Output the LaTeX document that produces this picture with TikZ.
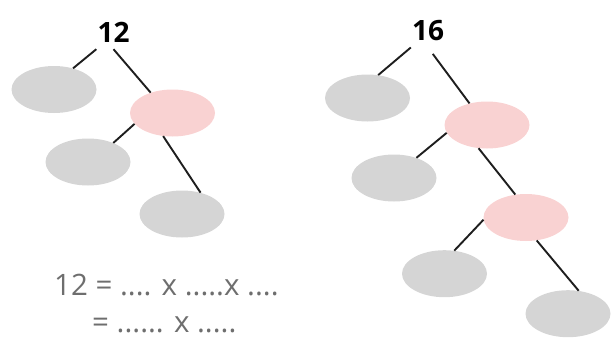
\documentclass[tikz,border=0pt]{standalone}
\usepackage{fontspec}
\setmainfont{Open Sans}
\usetikzlibrary{shapes.geometric}
\definecolor{leafgray}{HTML}{D5D5D5}
\definecolor{innerpink}{HTML}{F9D2D2}
\definecolor{linedark}{HTML}{1E1E1E}
\definecolor{textgray}{HTML}{6E6E6E}
\tikzset{
  blob/.style={ellipse, draw=none, inner sep=0pt, minimum width=85pt, minimum height=47pt},
  leaf/.style={blob, fill=leafgray},
  inner/.style={blob, fill=innerpink},
  topnum/.style={font=\fontsize{28}{30}\selectfont\bfseries, text=black, inner xsep=1pt, inner ysep=7pt, anchor=base},
  eqtext/.style={font=\fontsize{29.5}{32}\selectfont, text=textgray, inner sep=0pt, anchor=base west},
  branch/.style={draw=linedark, line width=1.9pt}
}
\begin{document}
\begin{tikzpicture}[x=1pt, y=-1pt]
\useasboundingbox (0,0) rectangle (616,338);
% left tree
\node[topnum] (n12) at (113.5,42) {12};
\node[leaf]  (la) at (54,89.5) {};
\node[inner] (lp) at (172.5,113) {};
\node[leaf]  (lb) at (88,162) {};
\node[leaf]  (lc) at (182,214) {};
\draw[branch] (n12.south west) -- (la.48);
\draw[branch] (n12.south) -- (lp.137);
\draw[branch] (lp.196) -- (lb.37);
\draw[branch] (lp.248) -- (lc.49);
% right tree
\node[topnum] (n16) at (428,40) {16};
\node[leaf]  (ra) at (367.5,98) {};
\node[inner] (rp) at (487,125) {};
\node[leaf]  (rb) at (394,178) {};
\node[inner] (rq) at (526,217.5) {};
\node[leaf]  (rc) at (444.5,273.7) {};
\node[leaf]  (rd) at (568,313.7) {};
\draw[branch] (n16.south west) -- (ra.65);
\draw[branch, shorten <=8pt] (n16.south) -- (rp.129);
\draw[branch] (rp.191) -- (rb.42);
\draw[branch] (rp.250) -- (rq.115);
\draw[branch] (rq.183) -- (rc.67);
\draw[branch] (rq.295) -- (rd.65);
% equations
\node[eqtext] (eq1) at (54,295) {12 = .... x .....x ....};
\node[eqtext] (eq2) at (92,332) {= ...... x .....};
\end{tikzpicture}
\end{document}
